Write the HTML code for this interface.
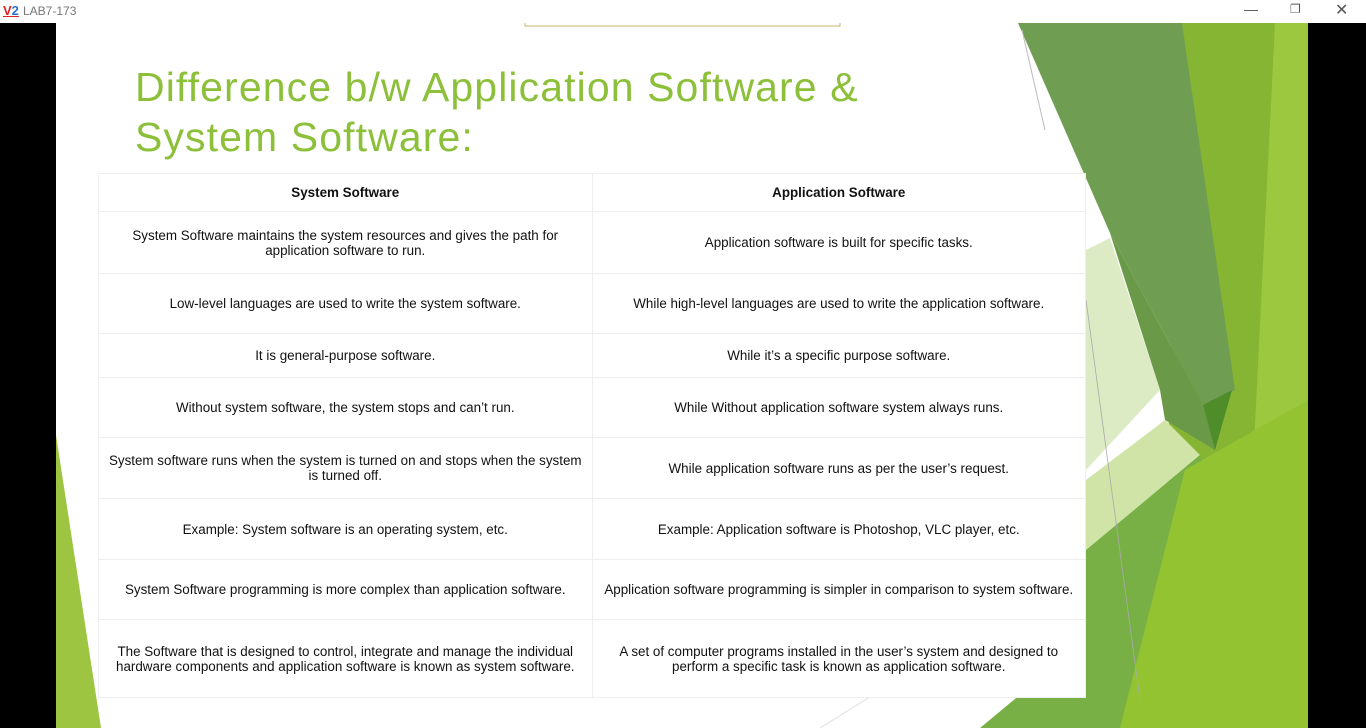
<!DOCTYPE html>
<html><head><meta charset="utf-8">
<style>
*{margin:0;padding:0;box-sizing:border-box}
body{width:1366px;height:728px;overflow:hidden;background:#000;position:relative;font-family:"Liberation Sans","DejaVu Sans",sans-serif}
#bar{position:absolute;left:0;top:0;width:1366px;height:23px;background:#fff}
#slide{position:absolute;left:56px;top:23px;width:1252px;height:705px;background:#fff;overflow:hidden}
svg.bg{position:absolute;left:0;top:0}
h1{position:absolute;left:79px;top:39px;font-weight:normal;font-size:41px;line-height:50px;color:#8dc03a;letter-spacing:1.1px}
table{position:absolute;left:42px;top:150px;width:988px;border-collapse:collapse;background:#fff;font-size:13.4px;color:#111}
td,th{border:1px solid #eeeeee;text-align:center;vertical-align:middle;padding:0 9px;width:50%;line-height:15px}
th{font-weight:bold;font-size:13.4px}
</style></head><body>
<div id="bar">
<span style="position:absolute;left:3px;top:3px;font-size:13px;font-weight:bold;color:#d22;text-decoration:underline">V<span style="color:#2a6fd6">2</span></span>
<span style="position:absolute;left:23px;top:4px;font-size:12px;color:#777">LAB7-173</span>
<span style="position:absolute;left:1244px;top:1px;font-size:14px;color:#555">—</span>
<span style="position:absolute;left:1290px;top:2px;font-size:12px;color:#555">❐</span>
<span style="position:absolute;left:1335px;top:0px;font-size:16px;color:#555">✕</span>
</div>
<div id="slide">
<svg class="bg" width="1252" height="705" viewBox="56 23 1252 705">
<polygon points="1180,23 1308,23 1308,728 1160,728" fill="#86b533"/>
<polygon points="1275,23 1308,23 1308,728 1240,728" fill="#9bc83f"/>
<polygon points="1018,23 1182,23 1235,390 1203,405 1110,233" fill="#6f9e52"/>
<polygon points="1110,233 1203,405 1215,450 1165,420 1160,390" fill="#6a9a48"/>
<polygon points="1086,250 1110,238 1160,390 1086,470" fill="#dcebc3"/>
<polygon points="1086,480 1165,420 1200,455 1086,550" fill="#cfe4a6"/>
<polygon points="1086,550 1200,455 1225,560 1200,728 980,728 1086,640" fill="#78b045"/>
<polygon points="1185,470 1308,400 1308,728 1120,728" fill="#93c331"/>
<polygon points="1203,405 1232,390 1215,450" fill="#4f8c2a"/>
<line x1="1022" y1="30" x2="1045" y2="130" stroke="#bbb" stroke-width="1"/>
<line x1="1086" y1="300" x2="1140" y2="700" stroke="#aaa" stroke-width="0.8"/>
<polygon points="56,435 56,728 101,728" fill="#9dc542"/>
<line x1="820" y1="728" x2="870" y2="697" stroke="#ddd" stroke-width="1"/>
<rect x="525" y="18" width="315" height="8" fill="none" stroke="#c9b36b" stroke-width="1"/>
</svg>
<h1>Difference b/w Application Software &amp;<br>System Software:</h1>
<table>
<tr style="height:38px"><th>System Software</th><th>Application Software</th></tr>
<tr style="height:62px"><td>System Software maintains the system resources and gives the path for application software to run.</td><td>Application software is built for specific tasks.</td></tr>
<tr style="height:60px"><td>Low-level languages are used to write the system software.</td><td>While high-level languages are used to write the application software.</td></tr>
<tr style="height:44px"><td>It is general-purpose software.</td><td>While it’s a specific purpose software.</td></tr>
<tr style="height:60px"><td>Without system software, the system stops and can’t run.</td><td>While Without application software system always runs.</td></tr>
<tr style="height:61px"><td>System software runs when the system is turned on and stops when the system is turned off.</td><td>While application software runs as per the user’s request.</td></tr>
<tr style="height:61px"><td>Example: System software is an operating system, etc.</td><td>Example: Application software is Photoshop, VLC player, etc.</td></tr>
<tr style="height:60px"><td>System Software programming is more complex than application software.</td><td>Application software programming is simpler in comparison to system software.</td></tr>
<tr style="height:78px"><td>The Software that is designed to control, integrate and manage the individual hardware components and application software is known as system software.</td><td>A set of computer programs installed in the user’s system and designed to perform a specific task is known as application software.</td></tr>
</table>
</div>
</body></html>
